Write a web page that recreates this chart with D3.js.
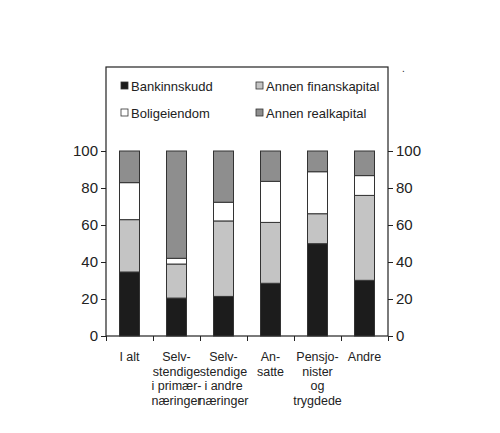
<!DOCTYPE html>
<html><head><meta charset="utf-8">
<script src="https://cdn.jsdelivr.net/npm/d3@7"></script>
<style>body{margin:0;background:#fff}text{font-family:"Liberation Sans",Arial,sans-serif;fill:#222}</style>
</head><body><div id="chart"></div>
<script>
// kategorier og andeler (prosent)
var categories = [["I alt"], ["Selv-", "stendige", "i primær-", "næringer"], ["Selv-", "stendige", "i andre", "næringer"], ["An-", "satte"], ["Pensjo-", "nister", "og", "trygdede"], ["Andre"]];
var seriesNames = ["Bankinnskudd", "Annen finanskapital", "Boligeiendom", "Annen realkapital"];
var bankinnskudd = [34.6, 20.5, 21.4, 28.5, 49.9, 30.1];
var finanskapital = [28.3, 18.4, 40.8, 32.9, 16.2, 45.9];
var bolig = [20.0, 3.1, 10.1, 22.2, 22.7, 10.7];
var realkapital = [17.1, 58.0, 27.7, 16.4, 11.2, 13.3];
var yTicks = [0, 20, 40, 60, 80, 100];
var colors = ["#1c1c1c", "#c4c4c4", "#ffffff", "#8e8e8e"];

var width = 500, height = 433;
var mLeft = 106, mRight = 388, mTop = 67, mBottom = 336;

var svg = d3.select('#chart').append('svg').attr('width', width).attr('height', height);

var x = d3.scaleBand().domain(d3.range(categories.length)).range([mLeft, mRight]);
var y = d3.scaleLinear().domain([0, 100]).range([mBottom, 151]);

// ramme
svg.append('rect').attr('x', mLeft).attr('y', mTop).attr('width', mRight - mLeft).attr('height', mBottom - mTop)
    .attr('fill', 'none').attr('stroke', '#222').attr('stroke-width', 1.2);

var series = [bankinnskudd, finanskapital, bolig, realkapital];
categories.forEach(function (c, i) {
    var acc = 0;
    series.forEach(function (s, k) {
        var v = s[i];
        svg.append('rect')
            .attr('x', x(i) + x.bandwidth() / 2 - 10)
            .attr('y', y(acc + v))
            .attr('width', 20)
            .attr('height', y(acc) - y(acc + v))
            .attr('fill', colors[k]).attr('stroke', '#333').attr('stroke-width', 1);
        acc += v;
    });
});

// akser
var yAxisL = d3.axisLeft(y).tickValues(yTicks).tickSize(5).tickSizeOuter(0);
var yAxisR = d3.axisRight(y).tickValues(yTicks).tickSize(5).tickSizeOuter(0);
[svg.append('g').attr('transform', `translate(${mLeft},0)`).call(yAxisL),
 svg.append('g').attr('transform', `translate(${mRight},0)`).call(yAxisR)].forEach(function (g) {
    g.select('.domain').remove();
    g.selectAll('line').attr('stroke', '#222');
    g.selectAll('text').style('font-size', '15px').attr('fill', '#222');
});

var xb = d3.scaleLinear().domain([0, categories.length]).range([mLeft, mRight]);
var gx = svg.append('g').attr('transform', `translate(0,${mBottom})`)
    .call(d3.axisBottom(xb).tickValues(d3.range(categories.length + 1)).tickSize(5).tickFormat(''));
gx.select('.domain').remove();
gx.selectAll('line').attr('stroke', '#222');

categories.forEach(function (lines, i) {
    var t = svg.append('text').attr('x', x(i) + x.bandwidth() / 2).attr('y', 361)
        .attr('text-anchor', 'middle').style('font-size', '12.5px');
    lines.forEach(function (l, j) {
        t.append('tspan').attr('x', x(i) + x.bandwidth() / 2).attr('dy', j ? 14.5 : 0).text(l);
    });
});

// tegnforklaring
var legendPos = [[121, 86], [256, 86], [121, 113], [256, 113]];
seriesNames.forEach(function (n, k) {
    var p = legendPos[k];
    svg.append('rect').attr('x', p[0]).attr('y', p[1] - 4).attr('width', 7).attr('height', 7)
        .attr('fill', colors[k]).attr('stroke', '#333').attr('stroke-width', 0.8);
    svg.append('text').attr('x', p[0] + 10).attr('y', p[1] + 4.5).style('font-size', '13px').text(n);
});
svg.append('text').attr('x', 402).attr('y', 72).style('font-size', '10px').text('.');
</script></body></html>
